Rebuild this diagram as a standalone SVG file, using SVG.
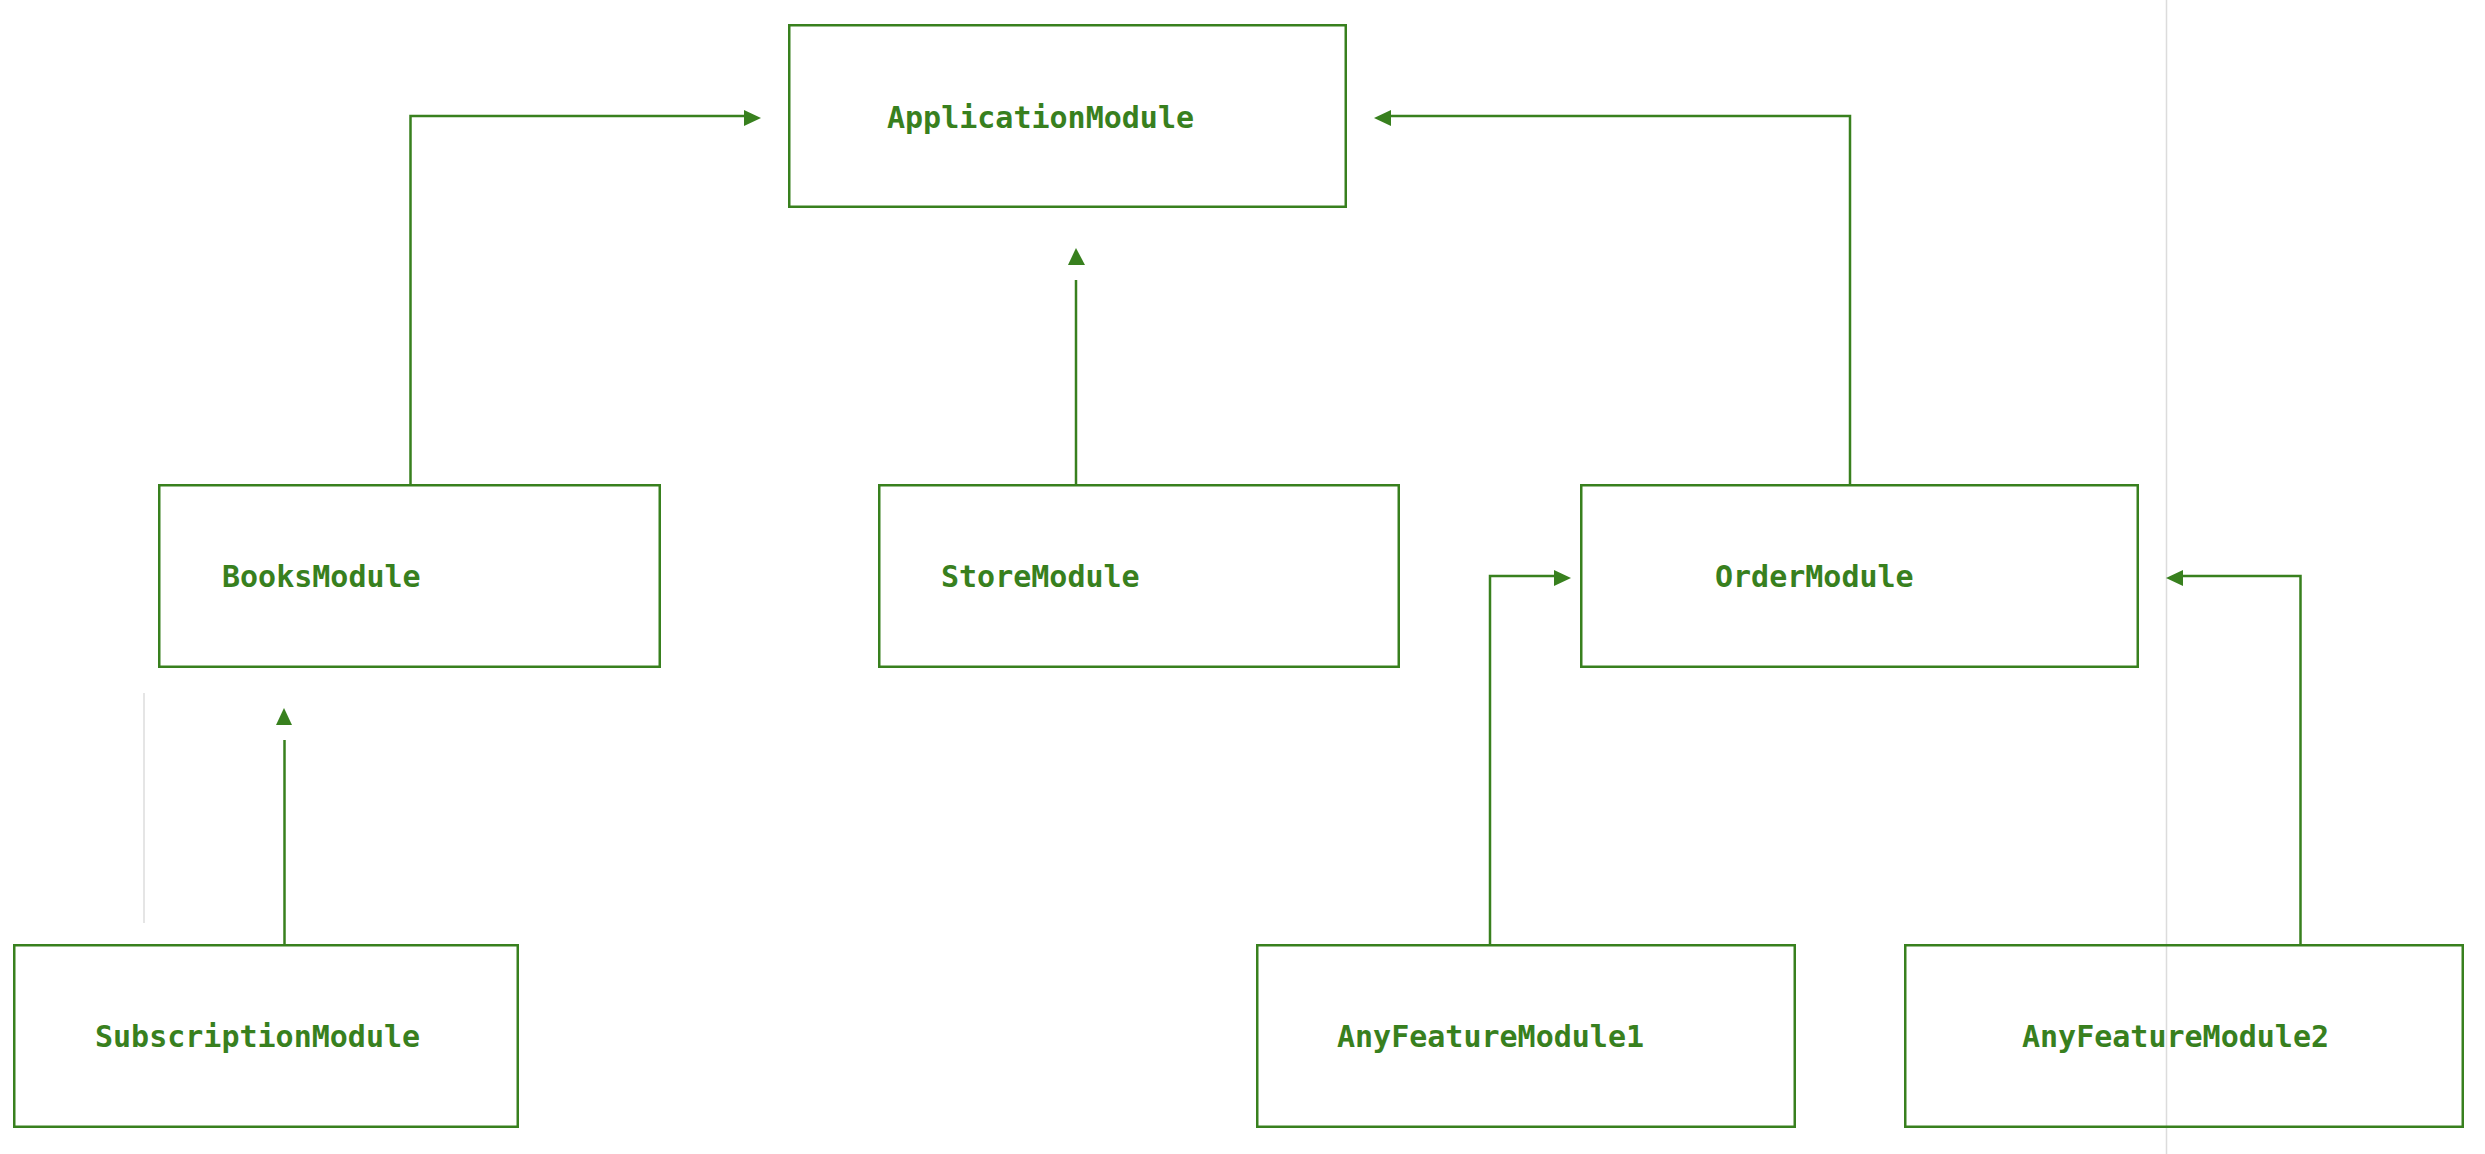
<svg xmlns="http://www.w3.org/2000/svg" width="2485" height="1154" viewBox="0 0 2485 1154">
<style>
.box{fill:none;stroke:#38801e;stroke-width:2.5}
.lbl{font-family:"DejaVu Sans Mono","Liberation Mono",monospace;font-weight:bold;font-size:30px;fill:#38801e}
.con{fill:none;stroke:#38801e;stroke-width:2.5}
.head{fill:#38801e}
.guide{stroke:#dcdcdc;stroke-width:1.5}
</style>
<rect width="2485" height="1154" fill="#ffffff"/>
<g id="guides">
<line class="guide" x1="2166.5" y1="0" x2="2166.5" y2="1154"/>
<line class="guide" x1="144" y1="693" x2="144" y2="923"/>
</g>
<g id="connectors">
<path class="con" d="M410.5 484 V116 H746"/>
<polygon class="head" points="744,110 761,118 744,126"/>
<path class="con" d="M1076 484 V280"/>
<polygon class="head" points="1076,248 1068,265 1085,265"/>
<path class="con" d="M1850 484 V116 H1389"/>
<polygon class="head" points="1391,110 1374,118 1391,126"/>
<path class="con" d="M1490 944 V576 H1556"/>
<polygon class="head" points="1554,570 1571,578 1554,586"/>
<path class="con" d="M2300.5 944 V576 H2181"/>
<polygon class="head" points="2183,570 2166,578 2183,586"/>
<path class="con" d="M284.5 944 V740"/>
<polygon class="head" points="284,708 276,725 292,725"/>
</g>
<g id="ApplicationModule">
<rect class="box" x="789.25" y="25.25" width="556.5" height="181.5"/>
<text class="lbl" x="887" y="128">ApplicationModule</text>
</g>
<g id="BooksModule">
<rect class="box" x="159.25" y="485.25" width="500.5" height="181.5"/>
<text class="lbl" x="222" y="587">BooksModule</text>
</g>
<g id="StoreModule">
<rect class="box" x="879.25" y="485.25" width="519.5" height="181.5"/>
<text class="lbl" x="941" y="587">StoreModule</text>
</g>
<g id="OrderModule">
<rect class="box" x="1581.25" y="485.25" width="556.5" height="181.5"/>
<text class="lbl" x="1715" y="587">OrderModule</text>
</g>
<g id="SubscriptionModule">
<rect class="box" x="14.25" y="945.25" width="503.5" height="181.5"/>
<text class="lbl" x="95" y="1047">SubscriptionModule</text>
</g>
<g id="AnyFeatureModule1">
<rect class="box" x="1257.25" y="945.25" width="537.5" height="181.5"/>
<text class="lbl" x="1337" y="1047">AnyFeatureModule1</text>
</g>
<g id="AnyFeatureModule2">
<rect class="box" x="1905.25" y="945.25" width="557.5" height="181.5"/>
<text class="lbl" x="2022" y="1047">AnyFeatureModule2</text>
</g>
</svg>
